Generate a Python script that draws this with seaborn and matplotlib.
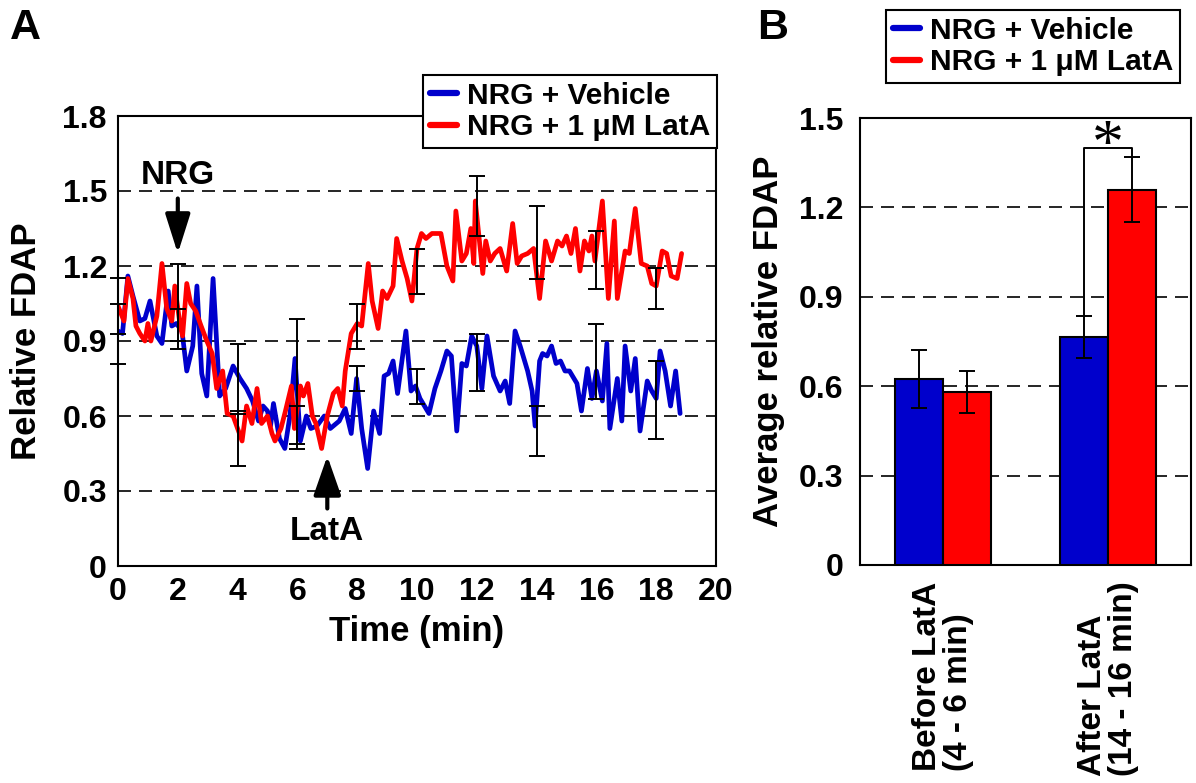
import matplotlib
matplotlib.use("Agg")
import matplotlib.pyplot as plt
import seaborn as sns
import pandas as pd
from matplotlib.lines import Line2D

# ---------------- data ----------------
series_names = ["NRG + Vehicle", "NRG + 1 \u03bcM LatA"]

time_vehicle = [0.0, 0.15, 0.33, 0.5, 0.73, 0.9, 1.07, 1.3, 1.47, 1.68, 1.8, 1.95, 2.14, 2.3, 2.5,
                2.64, 2.8, 2.97, 3.18, 3.4, 3.6, 3.85, 4.08, 4.3, 4.5, 4.7, 4.85, 5.0, 5.1, 5.2,
                5.4, 5.58, 5.75, 5.92, 6.1, 6.3, 6.45, 6.65, 6.9, 7.1, 7.4, 7.6, 7.8, 7.98, 8.15,
                8.35, 8.55, 8.75, 8.9, 9.05, 9.2, 9.35, 9.63, 9.8, 9.95, 10.1, 10.4, 10.6, 10.8,
                11.0, 11.15, 11.33, 11.5, 11.65, 11.83, 12.0, 12.17, 12.34, 12.56, 12.78, 12.95,
                13.1, 13.28, 13.45, 13.7, 13.85, 13.95, 14.1, 14.2, 14.35, 14.5, 14.65, 14.8,
                14.95, 15.1, 15.35, 15.5, 15.7, 15.85, 16.0, 16.2, 16.35, 16.45, 16.7, 16.85,
                16.96, 17.15, 17.3, 17.46, 17.7, 17.85, 18.0, 18.13, 18.3, 18.48, 18.65, 18.8]
fdap_vehicle = [0.94, 0.93, 1.16, 1.08, 0.98, 0.99, 1.06, 0.92, 0.89, 1.10, 0.96, 0.97, 0.94, 0.78, 0.88,
                1.12, 0.77, 0.68, 1.15, 0.68, 0.71, 0.80, 0.75, 0.71, 0.66, 0.58, 0.64, 0.62, 0.56, 0.65,
                0.51, 0.47, 0.60, 0.83, 0.50, 0.60, 0.55, 0.56, 0.60, 0.55, 0.58, 0.63, 0.53, 0.75, 0.55,
                0.39, 0.62, 0.53, 0.76, 0.77, 0.82, 0.69, 0.94, 0.70, 0.72, 0.67, 0.61, 0.71, 0.78,
                0.86, 0.84, 0.54, 0.81, 0.80, 0.92, 0.88, 0.71, 0.92, 0.76, 0.70, 0.74,
                0.65, 0.94, 0.88, 0.78, 0.70, 0.56, 0.82, 0.85, 0.84, 0.88, 0.81, 0.82,
                0.78, 0.78, 0.73, 0.62, 0.79, 0.67, 0.78, 0.66, 0.89, 0.55, 0.75, 0.58,
                0.88, 0.70, 0.83, 0.54, 0.74, 0.70, 0.67, 0.86, 0.78, 0.64, 0.78, 0.61]

time_latA = [0.0, 0.2, 0.33, 0.5, 0.6, 0.73, 0.9, 1.0, 1.1, 1.3, 1.47, 1.63, 1.8, 1.9, 2.07, 2.16,
             2.3, 2.43, 2.6, 2.78, 2.97, 3.15, 3.3, 3.5, 3.65, 3.85, 4.0, 4.15, 4.3, 4.48, 4.65,
             4.8, 5.0, 5.15, 5.25, 5.45, 5.6, 5.8, 5.9, 6.1, 6.2, 6.35, 6.5, 6.62, 6.81, 7.0,
             7.2, 7.35, 7.5, 7.6, 7.8, 8.0, 8.15, 8.37, 8.5, 8.7, 8.85, 9.0, 9.2, 9.32, 9.5,
             9.67, 9.83, 10.0, 10.15, 10.3, 10.5, 10.8, 11.0, 11.2, 11.3, 11.5, 11.65, 11.8,
             11.9, 11.95, 12.2, 12.3, 12.45, 12.6, 12.78, 13.0, 13.2, 13.35, 13.5, 13.7, 13.9,
             14.1, 14.3, 14.5, 14.7, 14.85, 15.0, 15.15, 15.3, 15.45, 15.6, 15.75, 15.85, 15.95,
             16.2, 16.4, 16.6, 16.7, 16.96, 17.1, 17.3, 17.5, 17.7, 17.85, 18.0, 18.2, 18.35,
             18.5, 18.7, 18.85]
fdap_latA = [1.04, 0.98, 1.15, 1.07, 0.96, 0.93, 0.90, 0.97, 0.90, 1.00, 1.21, 1.03, 0.98, 1.12, 0.97, 0.92,
             1.13, 1.05, 1.02, 0.96, 0.90, 0.85, 0.71, 0.78, 0.61, 0.60, 0.55, 0.50, 0.64, 0.57, 0.71,
             0.57, 0.60, 0.53, 0.50, 0.55, 0.62, 0.72, 0.55, 0.72, 0.68, 0.73, 0.60, 0.57, 0.47, 0.60,
             0.69, 0.71, 0.64, 0.78, 0.93, 0.97, 0.96, 1.21, 1.06, 0.95, 1.10, 1.07, 1.12, 1.31, 1.22,
             1.15, 1.06, 1.27, 1.33, 1.31, 1.33, 1.33, 1.20, 1.14, 1.42, 1.22, 1.25, 1.35,
             1.21, 1.46, 1.17, 1.30, 1.22, 1.25, 1.27, 1.18, 1.37, 1.21, 1.24, 1.25, 1.27,
             1.07, 1.30, 1.22, 1.30, 1.28, 1.32, 1.25, 1.35, 1.18, 1.30, 1.26, 1.32, 1.22,
             1.46, 1.07, 1.38, 1.07, 1.26, 1.25, 1.43, 1.21, 1.20, 1.13, 1.12, 1.26, 1.25,
             1.16, 1.15, 1.25]

err_times = [0, 2, 4, 6, 8, 10, 12, 14, 16, 18]
vehicle_err_mean = [0.93, 0.95, 0.75, 0.555, 0.75, 0.72, 0.815, 0.54, 0.82, 0.665]
vehicle_err = [0.12, 0.08, 0.14, 0.085, 0.05, 0.07, 0.115, 0.10, 0.15, 0.155]
latA_err_mean = [1.04, 1.055, 0.51, 0.74, 0.96, 1.18, 1.44, 1.295, 1.225, 1.11]
latA_err = [0.11, 0.155, 0.11, 0.25, 0.09, 0.09, 0.12, 0.145, 0.115, 0.08]

periods = ["Before LatA\n(4 - 6 min)", "After LatA\n(14 - 16 min)"]
bar_vehicle = [0.625, 0.765]
bar_vehicle_err = [0.097, 0.07]
bar_latA = [0.58, 1.26]
bar_latA_err = [0.07, 0.11]

a_yticks = [0, 0.3, 0.6, 0.9, 1.2, 1.5, 1.8]
a_yticklabels = ["0", "0.3", "0.6", "0.9", "1.2", "1.5", "1.8"]
a_xticks = [0, 2, 4, 6, 8, 10, 12, 14, 16, 18, 20]
b_yticks = [0, 0.3, 0.6, 0.9, 1.2, 1.5]
b_yticklabels = ["0", "0.3", "0.6", "0.9", "1.2", "1.5"]
bracket_y = 1.40

BLUE = "#0000CC"
RED = "#FF0000"

# ---------------- style ----------------
sns.set_style("white")
plt.rcParams["font.family"] = ["Liberation Sans", "DejaVu Sans"]
plt.rcParams["font.weight"] = "bold"
plt.rcParams["axes.labelweight"] = "bold"
plt.rcParams["axes.linewidth"] = 1.5
plt.rcParams["axes.edgecolor"] = "black"
plt.rcParams["text.color"] = "black"
plt.rcParams["axes.labelcolor"] = "black"
plt.rcParams["xtick.color"] = "black"
plt.rcParams["ytick.color"] = "black"

W, H = 1196, 783
fig = plt.figure(figsize=(W / 100, H / 100), dpi=100)
axA = fig.add_axes([118 / W, 1 - 566 / H, (716 - 118) / W, (566 - 116) / H])
axB = fig.add_axes([860 / W, 1 - 565 / H, (1191 - 860) / W, (565 - 118) / H])

dash = (0, (7.8, 4.8))

# ---------------- panel A ----------------
dfA = pd.concat([
    pd.DataFrame({"t": time_vehicle, "v": fdap_vehicle, "series": series_names[0]}),
    pd.DataFrame({"t": time_latA, "v": fdap_latA, "series": series_names[1]}),
])
sns.lineplot(data=dfA, x="t", y="v", hue="series", palette=[BLUE, RED],
             estimator=None, errorbar=None, sort=False, lw=3.4, ax=axA, legend=False, zorder=3)

for m, e in [(vehicle_err_mean, vehicle_err), (latA_err_mean, latA_err)]:
    cont = axA.errorbar(err_times, m, yerr=e, fmt="none", ecolor="black",
                        elinewidth=1.4, capsize=6, capthick=1.4, zorder=5)
    for art in cont.get_children():
        art.set_clip_on(False)

axA.set_xlim(0, 20)
axA.set_ylim(0, 1.8)
axA.set_yticks(a_yticks)
axA.set_yticklabels(a_yticklabels)
axA.set_xticks(a_xticks)
axA.set_xticklabels([str(x) for x in a_xticks])
axA.yaxis.grid(True, linestyle=dash, color="black", lw=1.2)
axA.xaxis.grid(False)
axA.set_axisbelow(True)
axA.tick_params(axis="both", direction="in", length=7, width=1.5, labelsize=23, pad=8,
                colors="black")
axA.set_xlabel("Time (min)", fontsize=25, labelpad=6)
axA.set_ylabel("Relative FDAP", fontsize=25, labelpad=14)
for s in axA.spines.values():
    s.set_visible(True)
    s.set_linewidth(1.5)

axA.annotate("NRG", xy=(2, 1.56), ha="center", va="center", fontsize=24, weight="bold")
axA.annotate("", xy=(2, 1.25), xytext=(2, 1.47),
             arrowprops=dict(arrowstyle="-|>,head_length=1.2,head_width=0.38", color="black",
                             lw=3, shrinkA=0, shrinkB=0, mutation_scale=20))
axA.annotate("LatA", xy=(7, 0.14), ha="center", va="center", fontsize=24, weight="bold")
axA.annotate("", xy=(7, 0.44), xytext=(7, 0.23),
             arrowprops=dict(arrowstyle="-|>,head_length=1.2,head_width=0.42", color="black",
                             lw=3, shrinkA=0, shrinkB=0, mutation_scale=20))

handles = [Line2D([], [], color=BLUE, lw=4.5), Line2D([], [], color=RED, lw=4.5)]
leg_kw = dict(loc="upper right", bbox_transform=fig.transFigure, frameon=True, fancybox=False,
              edgecolor="black", framealpha=1, borderaxespad=0,
              prop={"size": 21.5, "weight": "bold"}, handlelength=0.9, handletextpad=0.35,
              labelspacing=0.12, borderpad=0.22)
legA = axA.legend(handles, series_names, bbox_to_anchor=(717 / W, 1 - 75 / H), **leg_kw)
legA.get_frame().set_linewidth(1.5)
legA.set_zorder(10)

# ---------------- panel B ----------------
dfB = pd.DataFrame({
    "period": periods * 2,
    "value": bar_vehicle + bar_latA,
    "series": [series_names[0]] * 2 + [series_names[1]] * 2,
})
sns.barplot(data=dfB, x="period", y="value", hue="series", palette=[BLUE, RED],
            width=0.58, edgecolor="black", linewidth=1.5, errorbar=None, saturation=1,
            ax=axB, legend=False, zorder=3)

bars = [p for p in axB.patches if p.get_height() > 0]
bars_sorted = sorted(bars, key=lambda p: p.get_x())
centers = [p.get_x() + p.get_width() / 2 for p in bars_sorted]
# order: before-vehicle, before-latA, after-vehicle, after-latA
veh_centers = [centers[0], centers[2]]
lat_centers = [centers[1], centers[3]]
axB.errorbar(veh_centers, bar_vehicle, yerr=bar_vehicle_err, fmt="none", ecolor="black",
             elinewidth=1.4, capsize=6, capthick=1.4, zorder=5)
axB.errorbar(lat_centers, bar_latA, yerr=bar_latA_err, fmt="none", ecolor="black",
             elinewidth=1.4, capsize=6, capthick=1.4, zorder=5)

x1, x2 = veh_centers[1], lat_centers[1]
axB.plot([x1, x1, x2, x2],
         [bar_vehicle[1] + bar_vehicle_err[1], bracket_y, bracket_y, bar_latA[1] + bar_latA_err[1]],
         color="black", lw=1.4, zorder=6)
axB.text((x1 + x2) / 2, bracket_y - 0.05, "*", ha="center", va="baseline", fontsize=46,
         family="Liberation Serif", weight="normal")

axB.set_xlim(-0.5, 1.5)
axB.set_ylim(0, 1.5)
axB.set_yticks(b_yticks)
axB.set_yticklabels(b_yticklabels)
axB.yaxis.grid(True, linestyle=dash, color="black", lw=1.2)
axB.xaxis.grid(False)
axB.set_axisbelow(True)
axB.tick_params(axis="y", direction="in", length=0, labelsize=23, pad=12, colors="black")
axB.tick_params(axis="x", which="major", length=0, labelsize=23, pad=12, colors="black")
axB.set_xticks([0.5], minor=True)
axB.tick_params(axis="x", which="minor", direction="in", length=8, width=1.5)
for lbl in axB.get_xticklabels():
    lbl.set_rotation(90)
    lbl.set_multialignment("left")
    lbl.set_va("top")
    lbl.set_ha("center")
    lbl.set_linespacing(1.0)
    lbl.set_fontsize(24)
axB.set_xlabel("")
axB.set_ylabel("Average relative FDAP", fontsize=25, labelpad=10)
for s in axB.spines.values():
    s.set_visible(True)
    s.set_linewidth(1.5)

legB = axB.legend(handles, series_names, bbox_to_anchor=(1180 / W, 1 - 10 / H), **leg_kw)
legB.get_frame().set_linewidth(1.5)
legB.set_zorder(10)

fig.text(10 / W, 1 - 8 / H, "A", ha="left", va="top", fontsize=31, weight="bold")
fig.text(757 / W, 1 - 8 / H, "B", ha="left", va="top", fontsize=31, weight="bold")

fig.savefig("out.png", dpi=100)
